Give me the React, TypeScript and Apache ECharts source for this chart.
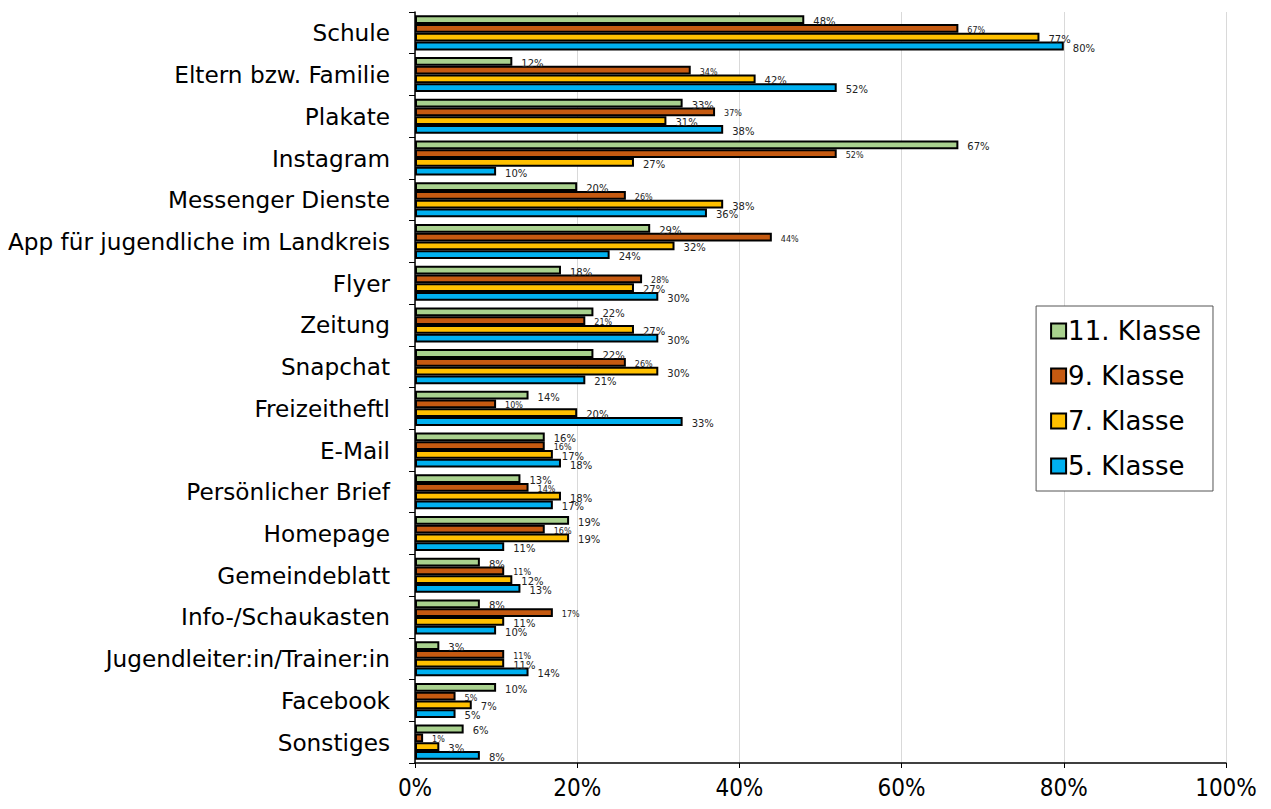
import React, { useEffect, useRef } from "react";
import * as echarts from "echarts";

const categories = [
  "Schule",
  "Eltern bzw. Familie",
  "Plakate",
  "Instagram",
  "Messenger Dienste",
  "App für jugendliche im Landkreis",
  "Flyer",
  "Zeitung",
  "Snapchat",
  "Freizeitheftl",
  "E-Mail",
  "Persönlicher Brief",
  "Homepage",
  "Gemeindeblatt",
  "Info-/Schaukasten",
  "Jugendleiter:in/Trainer:in",
  "Facebook",
  "Sonstiges",
];

const seriesNames = ["11. Klasse", "9. Klasse", "7. Klasse", "5. Klasse"];

const klasse11 = [48, 12, 33, 67, 20, 29, 18, 22, 22, 14, 16, 13, 19, 8, 8, 3, 10, 6];
const klasse9 = [67, 34, 37, 52, 26, 44, 28, 21, 26, 10, 16, 14, 16, 11, 17, 11, 5, 1];
const klasse7 = [77, 42, 31, 27, 38, 32, 27, 27, 30, 20, 17, 18, 19, 12, 11, 11, 7, 3];
const klasse5 = [80, 52, 38, 10, 36, 24, 30, 30, 21, 33, 18, 17, 11, 13, 10, 14, 5, 8];

const xTicks = [0, 20, 40, 60, 80, 100];

const colors = ["#A9D18E", "#C55A11", "#FFC000", "#00B0F0"];
const labelSizes = [10, 8, 10, 10];

export default function App() {
  const ref = useRef<HTMLDivElement>(null);

  useEffect(() => {
    if (!ref.current) return;
    const chart = echarts.init(ref.current, undefined, { renderer: "svg" });
    const dataSets = [klasse11, klasse9, klasse7, klasse5];
    chart.setOption({
      animation: false,
      textStyle: { fontFamily: "DejaVu Sans" },
      grid: { left: 415, right: 45, top: 12, bottom: 46, containLabel: false },
      legend: {
        orient: "vertical",
        right: 58,
        top: 306,
        data: seriesNames,
        icon: "rect",
        itemWidth: 15,
        itemHeight: 15,
        itemGap: 19,
        padding: [12, 12, 12, 14],
        borderColor: "#555",
        borderWidth: 1,
        backgroundColor: "#fff",
        textStyle: { fontSize: 26, color: "#000", padding: [0, 0, 0, -3] },
      },
      xAxis: {
        type: "value",
        min: xTicks[0],
        max: xTicks[xTicks.length - 1],
        interval: 20,
        axisLine: { show: true, lineStyle: { color: "#000", width: 1.5 } },
        axisTick: { show: true, length: 5, lineStyle: { color: "#000" } },
        axisLabel: {
          formatter: "{value}%",
          fontSize: 24,
          color: "#000",
          margin: 13,
          fontFamily: "DejaVu Sans Condensed",
        },
        splitLine: { show: true, lineStyle: { color: "#D9D9D9", width: 1 } },
      },
      yAxis: {
        type: "category",
        data: categories,
        inverse: true,
        axisLine: { show: true, lineStyle: { color: "#000", width: 1.5 } },
        axisTick: { show: true, length: 6, lineStyle: { color: "#000" } },
        axisLabel: { fontSize: 23.2, color: "#000", margin: 25 },
      },
      series: seriesNames.map((name, i) => ({
        name,
        type: "bar",
        data: dataSets[i],
        barGap: "0%",
        barCategoryGap: "16%",
        itemStyle: { color: colors[i], borderColor: "#000", borderWidth: 2 },
        label: {
          show: true,
          position: "right",
          distance: 9,
          formatter: "{c}%",
          fontSize: labelSizes[i],
          color: "#222",
          offset: [0, 2],
        },
      })),
    });
    return () => chart.dispose();
  }, []);

  return (
    <div
      ref={ref}
      style={{ position: "fixed", left: 0, top: 0, width: 1271, height: 809, background: "#fff" }}
    />
  );
}
